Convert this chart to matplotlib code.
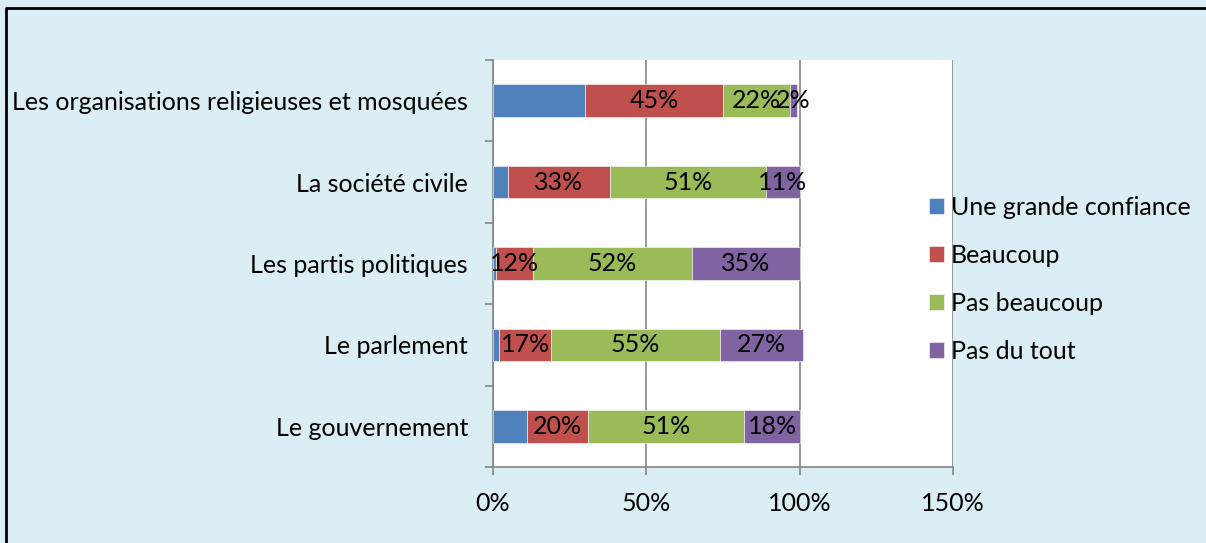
import matplotlib.pyplot as plt
from matplotlib.lines import Line2D
import numpy as np

plt.rcParams['font.family'] = ['Lato', 'DejaVu Sans']

categories = ['Le gouvernement', 'Le parlement', 'Les partis politiques',
              'La société civile', 'Les organisations religieuses et mosquées']
series = ['Une grande confiance', 'Beaucoup', 'Pas beaucoup', 'Pas du tout']
grande = [11, 2, 1, 5, 30]
beaucoup = [20, 17, 12, 33, 45]
pas_beaucoup = [51, 55, 52, 51, 22]
pas_du_tout = [18, 27, 35, 11, 2]
colors = ['#4F81BD', '#C0504D', '#9BBB59', '#8064A2']
show_labels = [False, True, True, True]

fig = plt.figure(figsize=(12.06, 5.43), dpi=100)
fig.patch.set_facecolor('#DBEEF4')
# cadre: seuls les bords haut et gauche sont visibles
fig.lines.append(Line2D([0.005, 0.005, 1.0], [0.0, 0.985, 0.985], transform=fig.transFigure,
                        color='black', linewidth=2))
ax = fig.add_axes([0.4088, 0.140, 0.3814, 0.7495])
ax.set_facecolor('white')

y = np.arange(len(categories))
left = np.zeros(len(categories))
for vals, name, col, lab in zip([grande, beaucoup, pas_beaucoup, pas_du_tout], series, colors, show_labels):
    vals = np.array(vals)
    ax.barh(y, vals, left=left, height=0.4, color=col, edgecolor='white', linewidth=0.4,
            label=name, zorder=3)
    if lab:
        for yi, l, v in zip(y, left, vals):
            ax.text(l + v / 2, yi, f'{v}%', ha='center', va='center', fontsize=18,
                    color='black', zorder=4)
    left += vals

ax.set_xlim(0, 150)
ax.set_ylim(-0.5, len(categories) - 0.5)
ax.set_xticks([0, 50, 100, 150])
ax.set_xticklabels(['0%', '50%', '100%', '150%'], fontsize=18)
ax.xaxis.grid(True, color='#868686', linewidth=1.2, zorder=0)
ax.set_yticks(y)
ax.set_yticklabels(categories, fontsize=18)
ax.set_yticks(np.arange(-0.5, len(categories)), minor=True)
ax.tick_params(axis='y', which='major', length=0, pad=18)
ax.tick_params(axis='y', which='minor', length=6, color='#868686', width=1.2)
ax.tick_params(axis='x', length=6, color='#868686', width=1.2, pad=12)
for s in ['top', 'right']:
    ax.spines[s].set_visible(False)
for s in ['left', 'bottom']:
    ax.spines[s].set_color('#868686')
    ax.spines[s].set_linewidth(1.2)

handles, labels = ax.get_legend_handles_labels()
fig.legend(handles, labels, loc='center left', bbox_to_anchor=(0.752, 0.485),
           frameon=False, fontsize=18, handlelength=0.6, handleheight=0.6,
           handletextpad=0.25, labelspacing=1.0)

fig.savefig('out.png', dpi=100, facecolor=fig.get_facecolor())
